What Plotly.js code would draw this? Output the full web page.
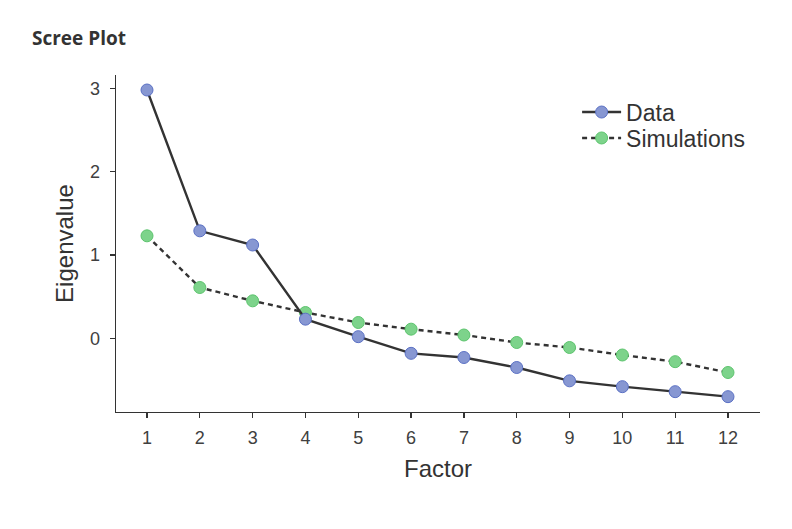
<!DOCTYPE html>
<html>
<head>
<meta charset="utf-8">
<script src="https://cdn.plot.ly/plotly-3.0.1.min.js"></script>
<style>html,body{margin:0;padding:0;background:#fff;}</style>
</head>
<body>
<div id="chart" style="width:792px;height:529px;"></div>
<script>
const factors = [1,2,3,4,5,6,7,8,9,10,11,12];
const dataEigen = [2.98,1.29,1.12,0.23,0.02,-0.18,-0.23,-0.35,-0.51,-0.58,-0.64,-0.70];
const simEigen = [1.23,0.61,0.45,0.31,0.19,0.11,0.04,-0.05,-0.11,-0.20,-0.28,-0.41];
const xTicks = [1,2,3,4,5,6,7,8,9,10,11,12];
const yTicks = [0,1,2,3];

const traces = [
  {
    x: factors, y: simEigen, name: 'Simulations', type: 'scatter', mode: 'lines+markers',
    line: {color: '#333333', width: 2.4, dash: '5px,4px'},
    marker: {size: 12, color: '#7dd38b', line: {color: '#5cc46d', width: 1}},
    legend: 'legend2'
  },
  {
    x: factors, y: dataEigen, name: 'Data', type: 'scatter', mode: 'lines+markers',
    line: {color: '#333333', width: 2.4},
    marker: {size: 12, color: '#8797d2', line: {color: '#5a70c4', width: 1}},
    legend: 'legend'
  }
];

const tickFont = {family: 'Liberation Sans, Arial, sans-serif', size: 18, color: '#404040'};
const titleFont = {family: 'Liberation Sans, Arial, sans-serif', size: 24, color: '#333333'};
const legendFont = {family: 'Liberation Sans, Arial, sans-serif', size: 23, color: '#333333'};

const layout = {
  width: 792, height: 529,
  paper_bgcolor: '#ffffff', plot_bgcolor: '#ffffff',
  margin: {l: 116, r: 32, t: 75, b: 117},
  title: {text: '<b>Scree Plot</b>', font: {family: 'Open Sans, sans-serif', size: 19, color: '#333333'},
          xref: 'container', x: 32/792, xanchor: 'left', yref: 'container', y: 1 - 38/529, yanchor: 'middle'},
  xaxis: {
    range: [0.413, 12.606], tickvals: xTicks, ticktext: xTicks.map(String),
    showgrid: false, zeroline: false, showline: true, linecolor: '#333333', linewidth: 1.3,
    ticks: 'outside', ticklen: 5, tickcolor: '#333333', tickwidth: 1.3,
    ticklabelstandoff: 4,
    tickfont: tickFont,
    title: {text: 'Factor', font: titleFont, standoff: 13}
  },
  yaxis: {
    range: [-0.884, 3.16], tickvals: yTicks, ticktext: yTicks.map(String),
    showgrid: false, zeroline: false, showline: true, linecolor: '#333333', linewidth: 1.3,
    ticks: 'outside', ticklen: 5, tickcolor: '#333333', tickwidth: 1.3,
    ticklabelstandoff: 6,
    tickfont: tickFont,
    title: {text: 'Eigenvalue', font: titleFont, standoff: 9}
  },
  legend: {
    x: 0.716, y: 0.890, xanchor: 'left', yanchor: 'middle',
    font: legendFont, bgcolor: 'rgba(0,0,0,0)', itemwidth: 39
  },
  legend2: {
    x: 0.716, y: 0.813, xanchor: 'left', yanchor: 'middle',
    font: legendFont, bgcolor: 'rgba(0,0,0,0)', itemwidth: 39
  },
  showlegend: true
};

Plotly.newPlot('chart', traces, layout, {displayModeBar: false, staticPlot: true});
</script>
</body>
</html>
